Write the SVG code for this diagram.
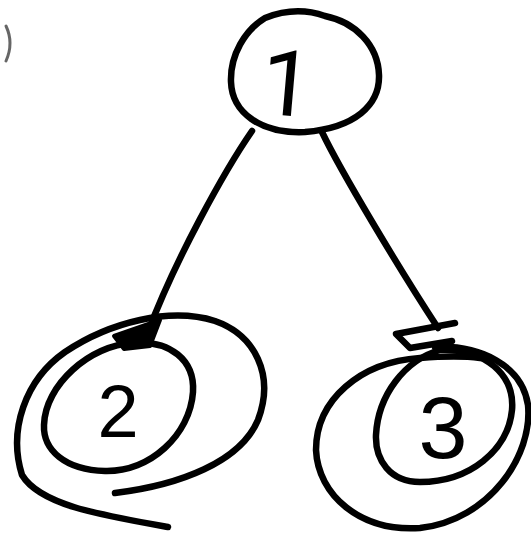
<svg xmlns="http://www.w3.org/2000/svg" width="531" height="542" viewBox="0 0 531 542">
<style>
.ln{fill:none;stroke:#000;stroke-width:6.5;stroke-linecap:round;stroke-linejoin:round}
.lbl{font-family:"Liberation Sans",Arial,sans-serif;fill:#000;text-anchor:middle}
</style>
<rect width="531" height="542" fill="#fff"/>
<path d="M6,26 Q14,43 6,61" fill="none" stroke="#666" stroke-width="3" stroke-linecap="round"/>
<g id="connectors">
<path class="ln" d="M252,131 C225,170 175,260 148,332"/>
<path class="ln" d="M322,132 C340,170 400,270 438,328"/>
<path d="M114,336 L160,320 L150,346 L124,349 Z" fill="#000" stroke="#000" stroke-width="4" stroke-linejoin="round"/>
<path class="ln" d="M455,323 L396,334 L410,348 L452,341" stroke-width="7"/>
</g>
<g id="node1">
<path class="ln" d="M265,18 C285,10 305,9 325,16 C355,22 378,45 379,75 C380,105 355,128 305,132 C260,134 232,112 231,82 C230,55 245,30 265,18 Z" stroke-width="7"/>
<text class="lbl" x="287" y="116" font-size="92" style="font-family:Roboto,sans-serif" transform="rotate(5 290 82)">1</text>
</g>
<g id="node2">
<path class="ln" d="M133,343 C170,340 195,360 193,392 C190,435 150,472 105,471 C65,470 43,450 44,425 C45,385 90,345 133,343 Z"/>
<path class="ln" d="M115,493 C180,485 240,462 258,420 C275,375 255,335 215,321 C170,307 110,322 65,352 C25,380 8,430 22,475 C40,505 100,515 168,527"/>
<text class="lbl" x="118" y="437" font-size="74">2</text>
</g>
<g id="node3">
<path class="ln" d="M440,350 C485,348 515,375 512,410 C508,450 470,482 420,482 C390,482 375,460 376,435 C378,395 405,360 440,350 Z"/>
<path class="ln" d="M435,347 C480,345 522,365 528,405 C533,455 490,520 420,528 C360,532 318,495 316,450 C316,400 360,362 420,358 C445,356 465,356 480,358"/>
<text class="lbl" x="443" y="458" font-size="88">3</text>
</g>
</svg>
